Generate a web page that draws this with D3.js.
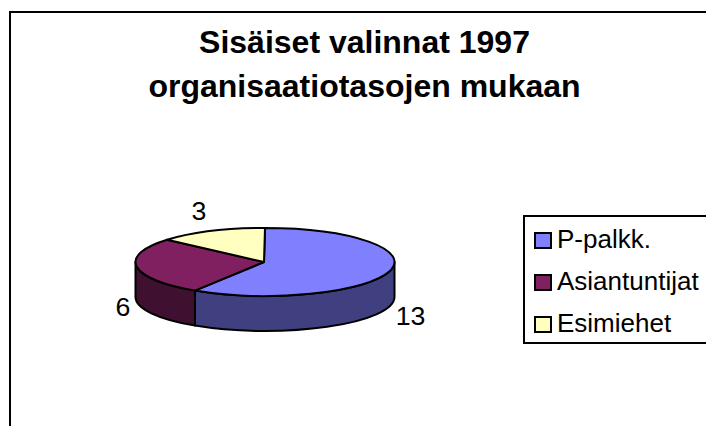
<!DOCTYPE html>
<html>
<head>
<meta charset="utf-8">
<script src="https://cdn.jsdelivr.net/npm/d3@7"></script>
<style>
  html, body { margin: 0; padding: 0; background: #fff; }
  svg { display: block; }
  text { font-family: "Liberation Sans", Arial, sans-serif; fill: #000; }
</style>
</head>
<body>
<svg id="chart" width="706" height="426"></svg>
<script>
var titleLines = ['Sisäiset valinnat 1997', 'organisaatiotasojen mukaan'];
var categories = ['P-palkk.', 'Asiantuntijat', 'Esimiehet'];
var values = [13, 6, 3];
var topColors = ['#8080ff', '#802060', '#ffffc0'];
var sideColors = ['#404080', '#401030', '#808060'];

var svg = d3.select('#chart');

// chart frame, runs off the right and bottom of the picture
svg.append('rect')
  .attr('x', 10).attr('y', 12)
  .attr('width', 800).attr('height', 600)
  .attr('fill', '#fff')
  .attr('stroke', '#000')
  .attr('stroke-width', 2);

// title
svg.append('g').selectAll('text')
  .data(titleLines)
  .join('text')
  .attr('x', 364.5)
  .attr('y', function(d, i) { return 53 + i * 43.5; })
  .attr('text-anchor', 'middle')
  .attr('font-size', 32)
  .attr('font-weight', 'bold')
  .text(function(d) { return d; });

// pie geometry
var cx = 265, cy = 262, rx = 129.5, ry = 34, depth = 35;

var slices = d3.pie().sort(null)(values);

function pt(a, dy) {
  return [cx + rx * Math.sin(a), cy - ry * Math.cos(a) + (dy || 0)];
}
function sweepFlag(a0, a1) {
  return (a1 - a0) > Math.PI ? 1 : 0;
}

// side wall, only the front half of the ellipse shows
var wallFrom = Math.PI / 2, wallTo = Math.PI * 3 / 2;
var walls = svg.append('g');
slices.forEach(function(s, i) {
  var a0 = Math.max(s.startAngle, wallFrom);
  var a1 = Math.min(s.endAngle, wallTo);
  if (a1 <= a0) return;
  var p0 = pt(a0), p1 = pt(a1), p2 = pt(a1, depth), p3 = pt(a0, depth);
  var d = 'M' + p0 +
    'A' + rx + ',' + ry + ' 0 ' + sweepFlag(a0, a1) + ' 1 ' + p1 +
    'L' + p2 +
    'A' + rx + ',' + ry + ' 0 ' + sweepFlag(a0, a1) + ' 0 ' + p3 + 'Z';
  walls.append('path')
    .attr('d', d)
    .attr('fill', sideColors[i])
    .attr('stroke', '#000')
    .attr('stroke-width', 2)
    .attr('stroke-linejoin', 'round');
});

// top face
svg.append('g').selectAll('path')
  .data(slices)
  .join('path')
  .attr('d', function(s) {
    var p0 = pt(s.startAngle), p1 = pt(s.endAngle);
    var large = (s.endAngle - s.startAngle) > Math.PI ? 1 : 0;
    return 'M' + [cx - 1, cy] + 'L' + p0 +
      'A' + rx + ',' + ry + ' 0 ' + large + ' 1 ' + p1 + 'Z';
  })
  .attr('fill', function(d, i) { return topColors[i]; })
  .attr('stroke', '#000')
  .attr('stroke-width', 2)
  .attr('stroke-linejoin', 'round');

// data labels
var labelPos = [[410.5, 325], [123, 315.5], [199, 219.5]];
svg.append('g').selectAll('text')
  .data(values)
  .join('text')
  .attr('x', function(d, i) { return labelPos[i][0]; })
  .attr('y', function(d, i) { return labelPos[i][1]; })
  .attr('text-anchor', 'middle')
  .attr('font-size', 26.7)
  .text(function(d) { return d; });

// legend
var legend = svg.append('g');
legend.append('rect')
  .attr('x', 524).attr('y', 216)
  .attr('width', 300).attr('height', 127)
  .attr('fill', '#fff')
  .attr('stroke', '#000')
  .attr('stroke-width', 2);

var rows = legend.selectAll('g')
  .data(categories)
  .join('g')
  .attr('transform', function(d, i) { return 'translate(0,' + (232 + i * 42) + ')'; });

rows.append('rect')
  .attr('x', 535).attr('y', 1)
  .attr('width', 16).attr('height', 15)
  .attr('fill', function(d, i) { return topColors[i]; })
  .attr('stroke', '#000')
  .attr('stroke-width', 2);

rows.append('text')
  .attr('x', 557).attr('y', 15.5)
  .attr('font-size', 26)
  .text(function(d) { return d; });
</script>
</body>
</html>
